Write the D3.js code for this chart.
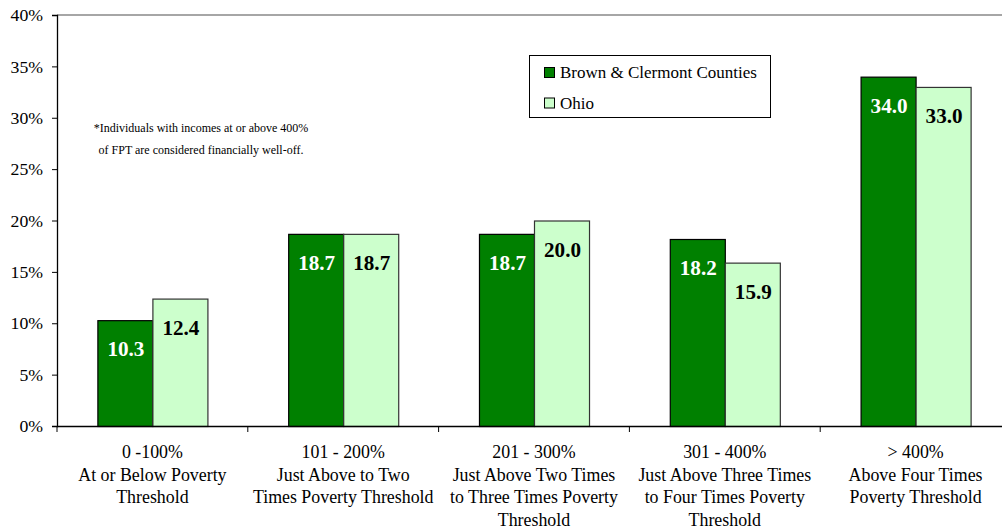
<!DOCTYPE html>
<html>
<head>
<meta charset="utf-8">
<script src="https://cdn.jsdelivr.net/npm/d3@7"></script>
<style>
  html, body { margin: 0; padding: 0; background: #fff; }
  svg { display: block; }
  svg text { font-family: "Liberation Serif", "Times New Roman", Times, serif; }
</style>
</head>
<body>
<svg id="chart" width="1002" height="529"></svg>
<script>
// ---- data ----
const categories = ["0-100", "101-200", "201-300", "301-400", ">400"];
const categoryLabels = [
  ["0 -100%", "At or Below Poverty", "Threshold"],
  ["101 - 200%", "Just Above to Two", "Times Poverty Threshold"],
  ["201 - 300%", "Just Above Two Times", "to Three Times Poverty", "Threshold"],
  ["301 - 400%", "Just Above Three Times", "to Four Times Poverty", "Threshold"],
  ["> 400%", "Above Four Times", "Poverty Threshold"]
];
const seriesNames = ["Brown & Clermont Counties", "Ohio"];
const brownClermont = [10.3, 18.7, 18.7, 18.2, 34.0];
const ohio = [12.4, 18.7, 20.0, 15.9, 33.0];
const yTicks = [0, 5, 10, 15, 20, 25, 30, 35, 40];
const noteLines = ["*Individuals with incomes at or above 400%", "of FPT are considered financially well-off."];

// ---- styles ----
const FONT = "'Liberation Serif', 'Times New Roman', Times, serif";
const colors = ["#008000", "#ccffcc"];
const strokes = ["#000000", "#333333"];
const labelColors = ["#ffffff", "#000000"];

const svg = d3.select("#chart").attr("font-family", FONT);
const plotLeft = 57, plotRight = 1011, plotTop = 15, plotBottom = 426;

// fit a text selection so that a sample node has the target width
function fitSize(sel, sampleNode, targetWidth, baseSize) {
  const w = sampleNode.getBBox().width;
  const size = w > 0 ? baseSize * targetWidth / w : baseSize;
  sel.attr("font-size", Math.max(12, Math.min(baseSize * 1.2, size)));
}

const x0 = d3.scaleBand().domain(categories).range([plotLeft, plotRight]).paddingInner(0).paddingOuter(0);
const x1 = d3.scaleBand().domain(seriesNames).range([0, x0.bandwidth()]).paddingInner(0).paddingOuter(0.734);
const y = d3.scaleLinear().domain([0, 40]).range([plotBottom, plotTop]);

const rows = categories.map((c, i) => ({ cat: c, values: [brownClermont[i], ohio[i]] }));

// top gray border line at 40%
svg.append("line")
  .attr("x1", plotLeft).attr("x2", 1002)
  .attr("y1", y(40)).attr("y2", y(40))
  .attr("stroke", "#a6a6a6").attr("stroke-width", 2);

// bars
const g = svg.append("g");
const barLabels = [];
rows.forEach(r => {
  r.values.forEach((v, j) => {
    const bx = x0(r.cat) + x1(seriesNames[j]);
    g.append("rect")
      .attr("x", bx + 0.5)
      .attr("y", y(v) + 0.5)
      .attr("width", x1.bandwidth())
      .attr("height", y(0) - y(v))
      .attr("fill", colors[j])
      .attr("stroke", strokes[j])
      .attr("stroke-width", 1.2);
    barLabels.push(g.append("text")
      .attr("x", bx + x1.bandwidth() / 2 + 1)
      .attr("y", y(v) + 36)
      .attr("text-anchor", "middle")
      .attr("font-size", 21)
      .attr("font-weight", "bold")
      .attr("fill", labelColors[j])
      .attr("font-family", FONT)
      .text(v.toFixed(1)).node());
  });
});
fitSize(d3.selectAll(barLabels), barLabels[2], 37, 21);

// y axis
const yAxis = d3.axisLeft(y).tickValues(yTicks).tickSize(5).tickPadding(9)
  .tickFormat(d => d + "%");
const yg = svg.append("g").attr("transform", `translate(${plotLeft},0)`).call(yAxis);
yg.attr("font-family", FONT).attr("font-size", 17);
yg.select(".domain").attr("stroke", "#000").attr("stroke-width", 1.3);
yg.selectAll(".tick line").attr("stroke", "#000");
const yText = yg.selectAll(".tick text")
  .attr("font-size", 17)
  .attr("font-family", FONT)
  .attr("fill", "#000");
fitSize(yText, yText.nodes()[yText.size() - 1], 32.5, 17);

// x axis line and ticks at category boundaries
svg.append("line")
  .attr("x1", plotLeft).attr("x2", 1002)
  .attr("y1", plotBottom + 0.5).attr("y2", plotBottom + 0.5)
  .attr("stroke", "#000").attr("stroke-width", 1.3);
const boundaries = categories.map(c => x0(c)).slice(1);
svg.selectAll(".xtick").data([plotLeft].concat(boundaries)).enter().append("line")
  .attr("x1", d => d).attr("x2", d => d)
  .attr("y1", plotBottom).attr("y2", plotBottom + 6)
  .attr("stroke", "#000").attr("stroke-width", 1);

// category labels (one text per line)
const catTexts = [];
let sampleLine = null;
categories.forEach((c, i) => {
  const cx = x0(c) + x0.bandwidth() / 2;
  categoryLabels[i].forEach((line, k) => {
    const t = svg.append("text")
      .attr("x", cx).attr("y", 458 + k * 22.5)
      .attr("text-anchor", "middle")
      .attr("font-size", 17)
      .attr("font-family", FONT)
      .attr("fill", "#000")
      .text(line);
    if (i === 0 && k === 1) sampleLine = t.node();
    catTexts.push(t.node());
  });
});
fitSize(d3.selectAll(catTexts), sampleLine, 149, 17);

// legend
const lg = svg.append("g");
lg.append("rect")
  .attr("x", 529.5).attr("y", 55.5).attr("width", 241).attr("height", 62)
  .attr("fill", "#fff").attr("stroke", "#000").attr("stroke-width", 1);
const legendTexts = [];
seriesNames.forEach((s, j) => {
  const yy = 67 + j * 30.5;
  lg.append("rect")
    .attr("x", 544.5).attr("y", yy + 0.5).attr("width", 10).attr("height", 10)
    .attr("fill", colors[j]).attr("stroke", "#000").attr("stroke-width", 1);
  legendTexts.push(lg.append("text")
    .attr("x", 560).attr("y", yy + 11)
    .attr("font-size", 16.5).attr("fill", "#000")
    .attr("font-family", FONT)
    .text(s).node());
});
fitSize(d3.selectAll(legendTexts), legendTexts[0], 197, 16.5);

// note (one text per line)
const noteTexts = noteLines.map((line, k) => svg.append("text")
  .attr("x", 201).attr("y", 132 + k * 22)
  .attr("text-anchor", "middle").attr("font-size", 16.5)
  .attr("font-family", FONT).attr("fill", "#000")
  .text(line).node());
fitSize(d3.selectAll(noteTexts), noteTexts[0], 210, 16.5);
</script>
</body>
</html>
